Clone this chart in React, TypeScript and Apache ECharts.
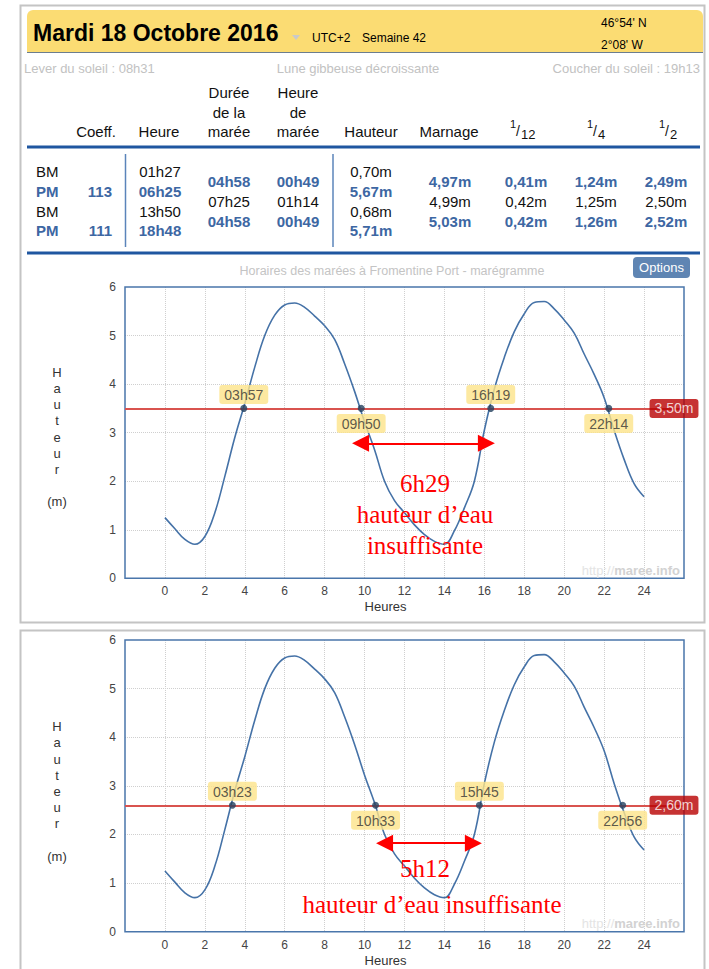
import React, { useEffect, useRef } from "react";
import * as echarts from "echarts";

// ---- tide curve (read from the marégramme) ----
const hours = [0, 0.5, 1, 1.5, 2, 2.5, 3, 3.5, 4, 4.5, 5, 5.5, 6, 6.5, 7, 7.5, 8, 8.5, 9, 9.5, 10, 10.5, 11, 11.5, 12, 12.5, 13, 13.5, 14, 14.5, 15, 15.5, 16, 16.5, 17, 17.5, 18, 18.5, 19, 19.5, 20, 20.5, 21, 21.5, 22, 22.5, 23, 23.5, 24];
const heights = [1.25, 1.02, 0.8, 0.7, 0.86, 1.35, 2.1, 2.9, 3.6, 4.35, 5.0, 5.42, 5.63, 5.67, 5.58, 5.4, 5.2, 4.92, 4.42, 3.85, 3.22, 2.65, 2.0, 1.6, 1.35, 1.1, 0.9, 0.76, 0.7, 0.98, 1.45, 2.0, 3.05, 3.9, 4.55, 5.08, 5.45, 5.68, 5.7, 5.55, 5.32, 5.05, 4.62, 4.2, 3.72, 3.05, 2.45, 1.95, 1.68];

// ---- thresholds and crossings ----
const levels = [3.5, 2.6];
const levelLabels = ["3,50m", "2,60m"];
const crossHours = [
  [3.95, 9.83, 16.32, 22.23],
  [3.38, 10.55, 15.75, 22.93],
];
const crossLabels = [
  ["03h57", "09h50", "16h19", "22h14"],
  ["03h23", "10h33", "15h45", "22h56"],
];
const arrowSpans = [
  [9.8, 16.1],
  [11.0, 15.45],
];
const arrowLevels = [2.78, 1.82];
const durations = ["6h29", "5h12"];
const yAxisName = "H\na\nu\nt\ne\nu\nr\n\n(m)";

// ---- table ----
const tideTypes = ["BM", "PM", "BM", "PM"];
const coeffs = ["", "113", "", "111"];
const tideTimes = ["01h27", "06h25", "13h50", "18h48"];
const tideHeights = ["0,70m", "5,67m", "0,68m", "5,71m"];
const durees = ["04h58", "07h25", "04h58"];
const heuresMaree = ["00h49", "01h14", "00h49"];
const marnages = ["4,97m", "4,99m", "5,03m"];
const douziemes = ["0,41m", "0,42m", "0,42m"];
const quarts = ["1,24m", "1,25m", "1,26m"];
const demis = ["2,49m", "2,50m", "2,52m"];

const SANS = '"Liberation Sans", Arial, sans-serif';
const SERIF = '"Liberation Serif", "DejaVu Serif", serif';
const BLUE = "#3d67a3";
const BLACK = "#111";

function txt(x: number, y: number, text: string, o: any = {}) {
  const align = o.align || "left";
  return {
    type: "text",
    x,
    y,
    silent: true,
    z: 10,
    style: {
      text,
      fill: o.color || BLACK,
      fontSize: o.size || 15,
      fontWeight: o.weight || "normal",
      fontFamily: o.family || SANS,
      align,
      textAlign: align,
      verticalAlign: "middle",
      textVerticalAlign: "middle",
      lineHeight: o.lineHeight,
      rich: o.rich,
    },
  };
}

function hline(x1: number, x2: number, y: number, color: string, w: number) {
  return { type: "line", silent: true, z: 5, shape: { x1, y1: y, x2, y2: y }, style: { stroke: color, lineWidth: w } };
}
function vline(x: number, y1: number, y2: number, color: string, w: number) {
  return { type: "line", silent: true, z: 5, shape: { x1: x, y1, x2: x, y2 }, style: { stroke: color, lineWidth: w } };
}

function buildGraphics() {
  const g: any[] = [];
  // panels
  g.push({ type: "rect", silent: true, z: 1, shape: { x: 20.5, y: 5.5, width: 684, height: 617 }, style: { fill: "none", stroke: "#c4c4c4", lineWidth: 2 } });
  g.push({ type: "rect", silent: true, z: 1, shape: { x: 20.5, y: 630.5, width: 684, height: 360 }, style: { fill: "none", stroke: "#c4c4c4", lineWidth: 2 } });
  // yellow header
  g.push({ type: "rect", silent: true, z: 2, shape: { x: 27, y: 10, width: 676, height: 42, r: [6, 6, 0, 0] }, style: { fill: "#fbdc73" } });
  g.push(hline(27, 703, 52.5, "#6b7d8f", 1));
  g.push(txt(33, 33, "Mardi 18 Octobre 2016", { size: 23, weight: "bold", color: "#000" }));
  g.push({ type: "polygon", silent: true, z: 10, shape: { points: [[292, 35], [300, 35], [296, 40]] }, style: { fill: "#c9c9c9" } });
  g.push(txt(312, 38, "UTC+2", { size: 12, color: "#000" }));
  g.push(txt(362, 38, "Semaine 42", { size: 12, color: "#000" }));
  g.push(txt(601, 23, "46°54' N", { size: 12, color: "#000" }));
  g.push(txt(601, 45, "2°08' W", { size: 12, color: "#000" }));
  g.push(txt(24, 68, "Lever du soleil : 08h31", { size: 13, color: "#c2c2c2" }));
  g.push(txt(358, 68, "Lune gibbeuse décroissante", { size: 13, color: "#c2c2c2", align: "center" }));
  g.push(txt(700, 68, "Coucher du soleil : 19h13", { size: 13, color: "#c2c2c2", align: "right" }));

  // table headers
  g.push(txt(96, 131, "Coeff.", { align: "center" }));
  g.push(txt(159, 131, "Heure", { align: "center" }));
  g.push(txt(229, 92, "Durée", { align: "center" }));
  g.push(txt(229, 112, "de la", { align: "center" }));
  g.push(txt(229, 131, "marée", { align: "center" }));
  g.push(txt(298, 92, "Heure", { align: "center" }));
  g.push(txt(298, 112, "de", { align: "center" }));
  g.push(txt(298, 131, "marée", { align: "center" }));
  g.push(txt(371, 131, "Hauteur", { align: "center" }));
  g.push(txt(449, 131, "Marnage", { align: "center" }));
  const fracs: [number, string][] = [[510, "12"], [587, "4"], [659, "2"]];
  fracs.forEach(([x, d]) => {
    g.push(txt(x, 124, "1", { size: 11 }));
    g.push(txt(x + 6, 131, "/", { size: 14 }));
    g.push(txt(x + 11, 134, d, { size: 13 }));
  });
  g.push(hline(27, 700, 147, "#1f56a0", 3));
  g.push(hline(27, 700, 253, "#1f56a0", 3));
  g.push(vline(125.5, 154, 247, "#5b84ba", 1.5));
  g.push(vline(333, 154, 247, "#5b84ba", 1.5));

  const rowY = [171.5, 191, 211, 230.5];
  const midY = [181.5, 201.5, 221];
  tideTypes.forEach((t, i) => {
    const isPM = t === "PM";
    const c = isPM ? BLUE : BLACK;
    const w = isPM ? "bold" : "normal";
    g.push(txt(36, rowY[i], t, { color: c, weight: w }));
    if (coeffs[i]) g.push(txt(112, rowY[i], coeffs[i], { color: c, weight: w, align: "right" }));
    g.push(txt(160, rowY[i], tideTimes[i], { color: c, weight: w, align: "center" }));
    g.push(txt(371, rowY[i], tideHeights[i], { color: c, weight: w, align: "center" }));
  });
  durees.forEach((d, i) => {
    const isBlue = i !== 1;
    const c = isBlue ? BLUE : BLACK;
    const w = isBlue ? "bold" : "normal";
    const y = midY[i];
    g.push(txt(229, y, d, { color: c, weight: w, align: "center" }));
    g.push(txt(298, y, heuresMaree[i], { color: c, weight: w, align: "center" }));
    g.push(txt(450, y, marnages[i], { color: c, weight: w, align: "center" }));
    g.push(txt(526, y, douziemes[i], { color: c, weight: w, align: "center" }));
    g.push(txt(596, y, quarts[i], { color: c, weight: w, align: "center" }));
    g.push(txt(666, y, demis[i], { color: c, weight: w, align: "center" }));
  });

  // chart 1 title and options button
  g.push(txt(392, 271, "Horaires des marées à Fromentine Port - marégramme", { size: 12.5, color: "#c4c4c4", align: "center" }));
  g.push({ type: "rect", silent: true, z: 10, shape: { x: 633, y: 257, width: 57, height: 21, r: 4 }, style: { fill: "#5f85b3" } });
  g.push(txt(661.5, 267.5, "Options", { size: 13, color: "#fff", align: "center" }));

  // y-axis titles
  g.push(txt(57, 437, yAxisName, { size: 13, color: "#333", align: "center", lineHeight: 16.2 }));
  g.push(txt(57, 791.5, yAxisName, { size: 13, color: "#333", align: "center", lineHeight: 16.2 }));

  // watermarks
  const wm = (y: number) =>
    txt(680, y, "{a|http://}{b|maree.info}", {
      size: 13,
      align: "right",
      rich: {
        a: { fill: "#e4e4e4", color: "#e4e4e4", fontSize: 13, fontFamily: SANS },
        b: { fill: "#d2d2d2", color: "#d2d2d2", fontSize: 13, fontWeight: "bold", fontFamily: SANS },
      },
    });
  g.push(wm(570));
  g.push(wm(923));

  // red annotations
  g.push(txt(425, 514, durations[0] + "\nhauteur d’eau\ninsuffisante", { size: 25, color: "#ff0000", family: SERIF, align: "center", lineHeight: 31 }));
  g.push(txt(425, 868, durations[1], { size: 25, color: "#ff0000", family: SERIF, align: "center" }));
  g.push(txt(432, 904, "hauteur d’eau insuffisante", { size: 25, color: "#ff0000", family: SERIF, align: "center" }));
  return g;
}

function App() {
  const ref = useRef<HTMLDivElement>(null);
  useEffect(() => {
    if (!ref.current) return;
    const chart = echarts.init(ref.current, null, { renderer: "svg" });
    const tide = hours.map((h, i) => [h, heights[i]]);
    const grids = [
      { left: 125, top: 287, width: 559, height: 291.3 },
      { left: 125, top: 640, width: 559, height: 291.7 },
    ];
    const xAxes = grids.map((_, gi) => ({
      type: "value",
      gridIndex: gi,
      min: -2,
      max: 26,
      interval: 2,
      axisLine: { show: false },
      axisTick: { show: false },
      axisLabel: {
        formatter: (v: number) => (v < 0 || v > 24 ? "" : String(v)),
        color: "#444",
        fontSize: 12,
        fontFamily: SANS,
        margin: 7,
      },
      splitLine: { show: true, showMinLine: false, showMaxLine: false, lineStyle: { color: "#cfcfcf", type: "dotted" } },
      name: "Heures",
      nameLocation: "middle",
      nameGap: 22,
      nameTextStyle: { color: "#333", fontSize: 13, fontFamily: SANS, align: "center", verticalAlign: "top", padding: [0, 38, 0, 0] },
    }));
    const yAxes = grids.map((_, gi) => ({
      type: "value",
      gridIndex: gi,
      min: 0,
      max: 6,
      interval: 1,
      axisLine: { show: false },
      axisTick: { show: false },
      axisLabel: { color: "#444", fontSize: 12, fontFamily: SANS, margin: 9 },
      splitLine: { show: true, showMinLine: false, showMaxLine: false, lineStyle: { color: "#cfcfcf", type: "dotted" } },
    }));

    const series: any[] = [];
    grids.forEach((_, gi) => {
      series.push({
        type: "line",
        name: "Hauteur",
        xAxisIndex: gi,
        yAxisIndex: gi,
        data: tide,
        smooth: 0.4,
        showSymbol: false,
        symbol: "none",
        lineStyle: { color: "#4572a7", width: 1.6 },
        z: 3,
        markLine: {
          silent: true,
          symbol: "none",
          label: { show: false },
          lineStyle: { color: "#d9534f", width: 2, type: "solid" },
          data: [{ yAxis: levels[gi] }],
          z: 4,
        },
      });
      series.push({
        type: "line",
        name: "Durée",
        xAxisIndex: gi,
        yAxisIndex: gi,
        data: [],
        markLine: {
          silent: true,
          symbol: ["triangle", "triangle"],
          symbolSize: 17,
          label: { show: false },
          lineStyle: { color: "#ff0000", width: 2, type: "solid" },
          data: [
            [
              { coord: [arrowSpans[gi][0], arrowLevels[gi]] },
              { coord: [arrowSpans[gi][1], arrowLevels[gi]] },
            ],
          ],
          itemStyle: { color: "#ff0000" },
          z: 6,
        },
      });
      series.push({
        type: "scatter",
        name: "Seuil",
        xAxisIndex: gi,
        yAxisIndex: gi,
        symbolSize: 7,
        itemStyle: { color: "#24415f" },
        z: 7,
        data: crossHours[gi].map((h, i) => ({
          value: [h, levels[gi]],
          label: {
            show: true,
            position: i % 2 === 0 ? "top" : "bottom",
            distance: i % 2 === 0 ? 1 : 2,
            formatter: crossLabels[gi][i],
            color: "#333",
            fontSize: 14,
            fontFamily: SANS,
            backgroundColor: "#fce38a",
            padding: [3, 5, 2, 5],
            borderRadius: 3,
          },
        })),
      });
      series.push({
        type: "scatter",
        name: "Niveau",
        xAxisIndex: gi,
        yAxisIndex: gi,
        symbolSize: 0,
        z: 8,
        data: [
          {
            value: [26, levels[gi]],
            label: {
              show: true,
              position: "inside",
              offset: [-10, 0],
              formatter: levelLabels[gi],
              color: "#fff",
              fontSize: 14,
              fontFamily: SANS,
              backgroundColor: "#b80000",
              padding: [3, 5, 2, 5],
              borderRadius: 3,
            },
          },
        ],
      });
    });

    chart.setOption({
      animation: false,
      backgroundColor: "#fff",
      grid: grids.map((g) => ({ ...g, show: true, borderColor: "#4a76ab", borderWidth: 1.5, backgroundColor: "transparent", z: 2 })),
      xAxis: xAxes,
      yAxis: yAxes,
      series,
      graphic: { elements: buildGraphics() },
    });
    return () => chart.dispose();
  }, []);
  return <div ref={ref} style={{ position: "absolute", left: 0, top: 0, width: 709, height: 969 }} />;
}

export default App;
